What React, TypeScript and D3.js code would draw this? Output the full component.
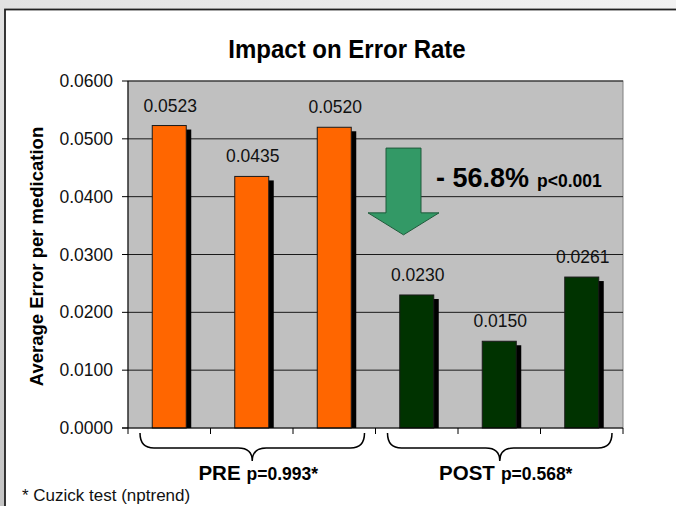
import React from "react";
import * as d3 from "d3";

const categories = ["PRE 1", "PRE 2", "PRE 3", "POST 1", "POST 2", "POST 3"];
const values = [0.0523, 0.0435, 0.052, 0.023, 0.015, 0.0261];
const phases = ["PRE", "PRE", "PRE", "POST", "POST", "POST"];
const yTicks = [0, 0.01, 0.02, 0.03, 0.04, 0.05, 0.06];
const groups = [
  { name: "PRE", p: "p=0.993*", from: 0, to: 2 },
  { name: "POST", p: "p=0.568*", from: 3, to: 5 },
];
const changeLabel = "- 56.8%";
const changeP = "p<0.001";

const W = 676;
const H = 506;
const plot = { left: 128, right: 623, top: 81, bottom: 428 };
const FONT = "'Liberation Sans', Arial, sans-serif";
const colors: Record<string, string> = { PRE: "#FF6600", POST: "#003300" };

export default function App() {
  const x = d3.scaleBand<string>().domain(categories).range([plot.left, plot.right]).paddingInner(0).paddingOuter(0);
  const y = d3.scaleLinear().domain([0, 0.06]).range([plot.bottom, plot.top]);
  const fmt = d3.format(".4f");
  const bw = x.bandwidth();
  const barW = 34;
  const shadowDx = 5;
  const shadowDy = 4;

  const brace = (x0: number, x1: number) => {
    const yTop = 433, yMid = 448, yTip = 461, r = 14;
    const cx = (x0 + x1) / 2;
    return `M${x0},${yTop} Q${x0},${yMid} ${x0 + r},${yMid} L${cx - r},${yMid} Q${cx},${yMid} ${cx},${yTip} Q${cx},${yMid} ${cx + r},${yMid} L${x1 - r},${yMid} Q${x1},${yMid} ${x1},${yTop}`;
  };

  // arrow annotation (between groups)
  const ax = 403.5;
  const arrowTop = y(0.0484);
  const headStart = y(0.0372);
  const tip = y(0.0334);
  const shaftHalf = 17.5;
  const headHalf = 35.5;
  const arrowPts = [
    [ax - shaftHalf, arrowTop],
    [ax + shaftHalf, arrowTop],
    [ax + shaftHalf, headStart],
    [ax + headHalf, headStart],
    [ax, tip],
    [ax - headHalf, headStart],
    [ax - shaftHalf, headStart],
  ]
    .map((p) => p.join(","))
    .join(" ");

  const boundaries = d3.range(categories.length + 1).map((i) => plot.left + i * bw);

  return (
    <svg width={W} height={H} style={{ position: "absolute", left: 0, top: 0 }} fontFamily={FONT}>
      <defs>
        <linearGradient id="bg" x1="0" y1="1" x2="1" y2="0">
          <stop offset="0" stopColor="#c4c4c4" />
          <stop offset="0.5" stopColor="#e2e2e2" />
          <stop offset="1" stopColor="#f2f2f2" />
        </linearGradient>
        <clipPath id="plotclip">
          <rect x={plot.left} y={plot.top - 10} width={plot.right - plot.left + 10} height={plot.bottom - plot.top + 10} />
        </clipPath>
      </defs>
      <rect x={0} y={0} width={W} height={H} fill="url(#bg)" />
      <rect x={5} y={9.5} width={W} height={H} fill="#ffffff" stroke="#222" strokeWidth={1.8} />

      {/* title */}
      <text transform="translate(347,58) scale(0.96,1)" textAnchor="middle" fontSize={25} fontWeight="bold" fill="#000">
        Impact on Error Rate
      </text>

      {/* plot area */}
      <rect x={plot.left} y={plot.top} width={plot.right - plot.left} height={plot.bottom - plot.top} fill="#c0c0c0" stroke="#808080" strokeWidth={1} />
      {yTicks.filter((t) => t > 0).map((t) => (
        <line key={"g" + t} x1={plot.left} x2={plot.right} y1={y(t)} y2={y(t)} stroke="#1a1a1a" strokeWidth={1} />
      ))}

      {/* bars with shadows */}
      <g clipPath="url(#plotclip)">
        {values.map((v, i) => {
          const cx = (x(categories[i]) as number) + bw / 2;
          return (
            <rect key={"s" + i} x={cx - barW / 2 + shadowDx} y={y(v) + shadowDy} width={barW} height={plot.bottom - y(v)} fill="#000" />
          );
        })}
      </g>
      {values.map((v, i) => {
        const cx = (x(categories[i]) as number) + bw / 2;
        return (
          <rect key={"b" + i} x={cx - barW / 2} y={y(v)} width={barW} height={plot.bottom - y(v)} fill={colors[phases[i]]} stroke="#1a1a1a" strokeWidth={1} />
        );
      })}
      {values.map((v, i) => {
        const cx = (x(categories[i]) as number) + bw / 2;
        return (
          <text key={"l" + i} x={cx + 1} y={y(v) - 14} textAnchor="middle" fontSize={17.5} fill="#111">
            {fmt(v)}
          </text>
        );
      })}

      {/* axes */}
      <line x1={plot.left} x2={plot.left} y1={plot.top} y2={plot.bottom} stroke="#000" strokeWidth={1} />
      <line x1={plot.left - 6} x2={plot.right} y1={plot.bottom} y2={plot.bottom} stroke="#000" strokeWidth={1} />
      {yTicks.map((t) => (
        <g key={"t" + t}>
          <line x1={plot.left - 6} x2={plot.left} y1={y(t)} y2={y(t)} stroke="#000" />
          <text x={113} y={y(t) + 6} textAnchor="end" fontSize={17.5} fill="#111">
            {fmt(t)}
          </text>
        </g>
      ))}
      {boundaries.map((b, i) => (
        <line key={"xt" + i} x1={b} x2={b} y1={plot.bottom} y2={plot.bottom + 6} stroke="#000" />
      ))}

      <text transform={`translate(43,${(plot.top + plot.bottom) / 2 + 2}) rotate(-90)`} textAnchor="middle" fontSize={18.5} fontWeight="bold" fill="#000">
        Average Error per medication
      </text>

      {/* arrow annotation */}
      <polygon points={arrowPts} fill="#339966" stroke="#1e5a3a" strokeWidth={1} />
      <text x={436} y={187} fontWeight="bold" fill="#000">
        <tspan fontSize={27}>{changeLabel}</tspan>
        <tspan fontSize={17.5} dx={8}>{changeP}</tspan>
      </text>

      {/* braces */}
      {groups.map((g) => {
        const x0 = (x(categories[g.from]) as number) + 12;
        const x1 = (x(categories[g.to]) as number) + bw - 11;
        const cx = (x0 + x1) / 2;
        return (
          <g key={g.name}>
            <path d={brace(x0, x1)} fill="none" stroke="#000" strokeWidth={1.5} />
            <text x={cx + 6} y={480} textAnchor="middle" fontWeight="bold" fill="#000">
              <tspan fontSize={20.5}>{g.name}</tspan>
              <tspan fontSize={17.5} dx={6}>{g.p}</tspan>
            </text>
          </g>
        );
      })}

      <text x={22} y={501} fontSize={17} fill="#111">
        * Cuzick test (nptrend)
      </text>
    </svg>
  );
}
